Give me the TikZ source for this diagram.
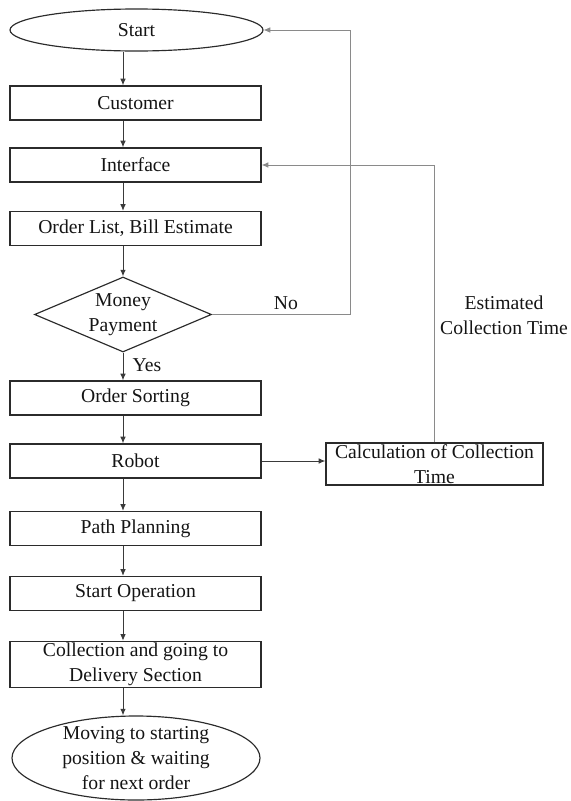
\documentclass[tikz,border=0pt]{standalone}
\usepackage{fontspec}
\setmainfont{Liberation Serif}
\usetikzlibrary{arrows.meta, positioning, shapes.geometric, calc}
\definecolor{flowdark}{HTML}{2B2B2B}
\definecolor{flowtext}{HTML}{141414}
\definecolor{flowline}{HTML}{3A3A3A}
\definecolor{flowgray}{HTML}{8A8A8A}
\tikzset{
  procbox/.style={rectangle, draw=flowdark, line width=0.8pt, minimum width=150.6pt,
    minimum height=20.4pt, inner sep=1pt, align=center, text=flowtext},
  termnode/.style={ellipse, draw=flowdark, line width=0.7pt, inner sep=0pt, align=center, text=flowtext},
  decide/.style={diamond, draw=flowdark, line width=0.7pt, aspect=2.36, inner sep=0pt,
    inner ysep=-4pt, minimum width=106.2pt, minimum height=45pt, align=center, text=flowtext},
  arr/.style={-{Latex[length=4pt, width=3.4pt]}, line width=0.6pt, flowline},
  fbarr/.style={-{Latex[length=4pt, width=3.4pt]}, line width=0.5pt, flowgray},
  lbl/.style={align=center, text=flowtext},
}

\begin{document}
\begin{tikzpicture}[x=0.6pt, y=-0.6pt, font=\fontsize{11.8}{15}\selectfont]
    \useasboundingbox (0,0) rectangle (571,801);

    \node[termnode, minimum width=151.8pt, minimum height=25.2pt] (start) at (136.5,30) {Start};
    \node[procbox] (customer) at (135.5,103) {Customer};
    \node[procbox] (interface) at (135.5,165) {Interface};
    \node[procbox] (orderlist) at (135.5,228.5) {Order List, Bill Estimate};
    \node[decide] (money) at (123,314.5) {Money\\Payment};
    \node[procbox] (sorting) at (135.5,398) {Order Sorting};
    \node[procbox] (robot) at (135.5,461) {Robot};
    \node[procbox] (path) at (135.5,528.5) {Path Planning};
    \node[procbox] (startop) at (135.5,593.5) {Start Operation};
    \node[procbox, minimum height=27pt] (collect) at (135.5,664.5) {Collection and going to\\Delivery Section};
    \node[termnode, inner ysep=-12pt, minimum width=148.8pt, minimum height=50.4pt] (moving) at (136,758)
      {Moving to starting\\position \& waiting\\for next order};

    \node[procbox, minimum width=130.2pt, minimum height=25.2pt, inner ysep=-6pt] (calc) at (434.5,464)
      {Calculation of Collection\\Time};

    % main flow
    \draw[arr] (start.south -| money) -- (customer.north -| money);
    \draw[arr] (customer.south -| money) -- (interface.north -| money);
    \draw[arr] (interface.south -| money) -- (orderlist.north -| money);
    \draw[arr] (orderlist.south -| money) -- (money.north);
    \draw[arr] (money.south) -- (sorting.north -| money);
    \draw[arr] (sorting.south -| money) -- (robot.north -| money);
    \draw[arr] (robot.south -| money) -- (path.north -| money);
    \draw[arr] (path.south -| money) -- (startop.north -| money);
    \draw[arr] (startop.south -| money) -- (collect.north -| money);
    \draw[arr] (collect.south -| money) -- (moving.north -| money);

    % feedback
    \coordinate (noturn) at (350,314.5);
    \draw[fbarr] (money.east) -- (noturn) |- (start.east);
    \draw[arr] (robot.east) -- (robot.east -| calc.west);
    \draw[fbarr] (calc.north) |- (interface.east);

    \node[lbl] (nolbl) at (286,303) {No};
    \node[lbl] (yeslbl) at (147,365) {Yes};
    \node[lbl] (estlbl) at (504,315) {Estimated\\Collection Time};
  \end{tikzpicture}
\end{document}
